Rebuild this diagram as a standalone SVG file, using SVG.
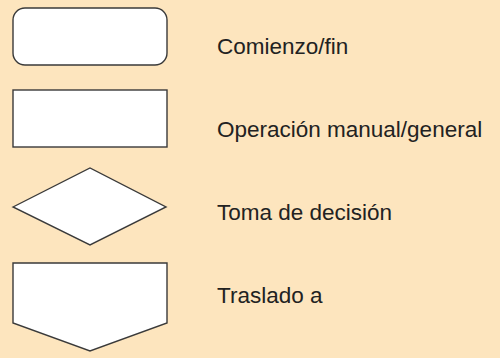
<svg xmlns="http://www.w3.org/2000/svg" width="500" height="358" viewBox="0 0 500 358">
<style>
.s{fill:#fff;stroke:#3a3a3a;stroke-width:1.4}
.t{font-family:"Liberation Sans",Arial,sans-serif;font-size:22.5px;fill:#222}
</style>
<rect width="500" height="358" fill="#fde5be"/>
<g id="n1"><rect class="s" x="13" y="8" width="154" height="57" rx="12"/><text class="t" x="217" y="54">Comienzo/fin</text></g>
<g id="n2"><rect class="s" x="13" y="90" width="154" height="57"/><text class="t" x="217" y="136.5">Operación manual/general</text></g>
<g id="n3"><polygon class="s" points="13,207 90,168 166,207 90,245"/><text class="t" x="217" y="219.5">Toma de decisión</text></g>
<g id="n4"><polygon class="s" points="13,263 167,263 167,323 90,351 13,323"/><text class="t" x="217" y="302.5">Traslado a</text></g>
<g id="connectors"/>
</svg>
